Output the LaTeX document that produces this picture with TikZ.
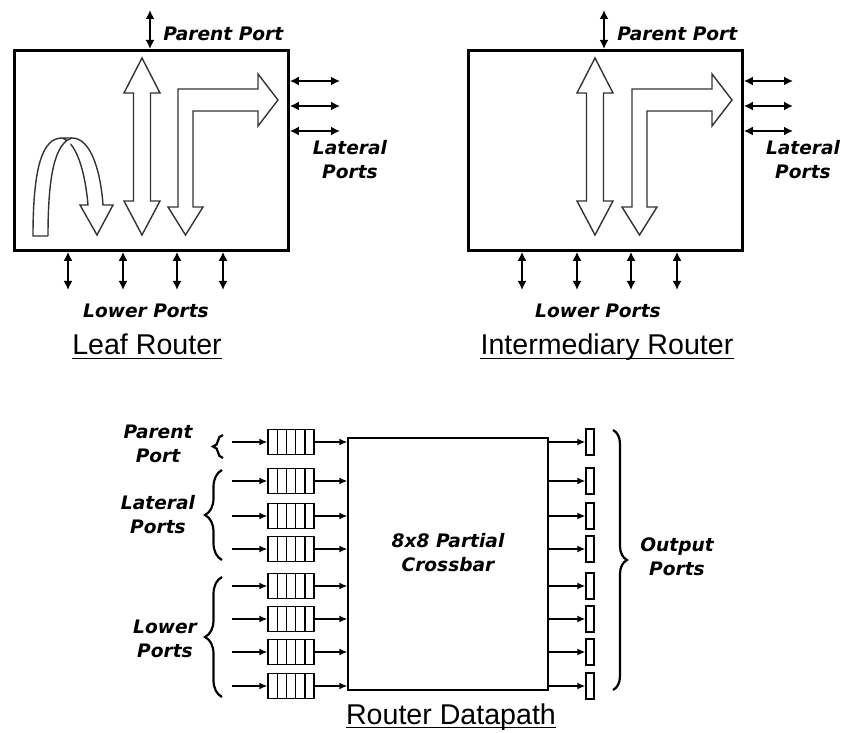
\documentclass[tikz,border=0pt]{standalone}
\usepackage{fontspec}
\setmainfont{Liberation Sans}
\newfontfamily\portfont{DejaVu Sans}
\usetikzlibrary{arrows.meta,decorations.pathreplacing}

\tikzset{
  rbox/.style={draw, line width=1.4pt, minimum width=137pt, minimum height=100pt, inner sep=0pt, anchor=north west},
  port/.style={line width=0.9pt, {Latex[length=4.5pt,width=4.5pt]}-{Latex[length=4.5pt,width=4.5pt]}},
  blk/.style={draw=black!80, line width=0.7pt, fill=white, line join=miter},
  lbl/.style={font=\portfont\bfseries\itshape\fontsize{9.3}{12}\selectfont, align=center, inner sep=0pt},
  ttl/.style={font=\fontsize{14.3}{16}\selectfont, inner sep=0pt, anchor=base},
  arr/.style={line width=0.7pt, -{Latex[length=4pt,width=3.5pt]}},
  queue/.style={draw, line width=0.7pt, minimum width=23pt, minimum height=12.5pt, inner sep=0pt,
    path picture={\foreach \k in {1,...,4}
      \draw[line width=0.7pt] ([xshift=\k*4.6pt]path picture bounding box.north west) -- ([xshift=\k*4.6pt]path picture bounding box.south west);}},
  obuf/.style={draw, line width=0.7pt, minimum width=4pt, minimum height=13pt, inner sep=0pt},
  brc/.style={decorate, decoration={brace, amplitude=#1}, line width=1.1pt}
}

\begin{document}
\begin{tikzpicture}[x=0.5pt,y=-0.5pt]
\path[use as bounding box] (0,0) rectangle (842,733);

% leaf router
\node[rbox] (leaf) at (13,49) {};
\coordinate (leafP) at (150,10);
\draw[port] (leafP) -- (leafP |- leaf.north);
\node[lbl, anchor=west] (leafPl) at (163,34) {Parent Port};
\coordinate (leafL1) at (340,81);
\coordinate (leafL2) at (340,106);
\coordinate (leafL3) at (340,131);
\draw[port] (leafL1 -| leaf.east) -- (leafL1);
\draw[port] (leafL2 -| leaf.east) -- (leafL2);
\draw[port] (leafL3 -| leaf.east) -- (leafL3);
\node[lbl] (leafLl) at (350,160) {Lateral\\Ports};
\coordinate (leafD1) at (68,290);
\coordinate (leafD2) at (123,290);
\coordinate (leafD3) at (177,290);
\coordinate (leafD4) at (223,290);
\draw[port] (leafD1 |- leaf.south) -- (leafD1);
\draw[port] (leafD2 |- leaf.south) -- (leafD2);
\draw[port] (leafD3 |- leaf.south) -- (leafD3);
\draw[port] (leafD4 |- leaf.south) -- (leafD4);
\node[lbl] (leafDl) at (146,311) {Lower Ports};
\node[ttl] (leafT) at (147,355) {Leaf Router};
\draw[line width=0.8pt] ([yshift=-1.8pt]leafT.base west) -- ([yshift=-1.8pt]leafT.base east);
% turn-back, up/down and lateral flows
\draw[blk] (48,236) -- (33,236) .. controls (33,165) and (43,138) .. (62,138) -- (72,138)
  .. controls (92,138) and (101,175) .. (103,205) -- (113,205) -- (97,235) -- (80,205) -- (88,205)
  .. controls (85,170) and (76,142) .. (62,138);
\draw[blk] (48,236) .. controls (48,175) and (55,143) .. (72,138);
\draw[blk] (142,58) -- (160,93) -- (150.5,93) -- (150.5,201) -- (160,201) -- (142,235)
  -- (124,201) -- (133.5,201) -- (133.5,93) -- (124,93) -- cycle;
\draw[blk] (178,89) -- (258,89) -- (258,74) -- (278,100) -- (258,126) -- (258,111) -- (193,111)
  -- (193,207) -- (203,207) -- (185.5,235) -- (168,207) -- (178,207) -- cycle;

% intermediary router
\begin{scope}[shift={(454,0)}]
\node[rbox] (inter) at (13,49) {};
\coordinate (interP) at (150,10);
\draw[port] (interP) -- (interP |- inter.north);
\node[lbl, anchor=west] (interPl) at (163,34) {Parent Port};
\coordinate (interL1) at (339,81);
\coordinate (interL2) at (339,106);
\coordinate (interL3) at (339,131);
\draw[port] (interL1 -| inter.east) -- (interL1);
\draw[port] (interL2 -| inter.east) -- (interL2);
\draw[port] (interL3 -| inter.east) -- (interL3);
\node[lbl] (interLl) at (349,160) {Lateral\\Ports};
\coordinate (interD1) at (68,290);
\coordinate (interD2) at (123,290);
\coordinate (interD3) at (177,290);
\coordinate (interD4) at (223,290);
\draw[port] (interD1 |- inter.south) -- (interD1);
\draw[port] (interD2 |- inter.south) -- (interD2);
\draw[port] (interD3 |- inter.south) -- (interD3);
\draw[port] (interD4 |- inter.south) -- (interD4);
\node[lbl] (interDl) at (144,311) {Lower Ports};
\node[ttl] (interT) at (153,355) {Intermediary Router};
\draw[line width=0.8pt] ([yshift=-1.8pt]interT.base west) -- ([yshift=-1.8pt]interT.base east);
\draw[blk] (141,58) -- (159,93) -- (149.5,93) -- (149.5,201) -- (159,201) -- (141,235)
  -- (123,201) -- (132.5,201) -- (132.5,93) -- (123,93) -- cycle;
\draw[blk] (178,89) -- (258,89) -- (258,74) -- (278,100) -- (258,126) -- (258,111) -- (193,111)
  -- (193,207) -- (203,207) -- (185.5,235) -- (168,207) -- (178,207) -- cycle;
\end{scope}

% router datapath
\node[draw, line width=0.7pt, minimum width=100pt, minimum height=126pt, inner sep=0pt] (xbar) at (448,564) {};
\node[lbl] (xbarl) at (448,553) {8x8 Partial\\Crossbar};
\node[queue] (q1) at (291,442) {};
\node[queue] (q2) at (291,481) {};
\node[queue] (q3) at (291,516) {};
\node[queue] (q4) at (291,549) {};
\node[queue] (q5) at (291,586) {};
\node[queue] (q6) at (291,619) {};
\node[queue] (q7) at (291,652) {};
\node[queue] (q8) at (291,686) {};
\coordinate (in1) at (232,442);
\coordinate (in2) at (232,481);
\coordinate (in3) at (232,516);
\coordinate (in4) at (232,549);
\coordinate (in5) at (232,586);
\coordinate (in6) at (232,619);
\coordinate (in7) at (232,652);
\coordinate (in8) at (232,686);
\draw[arr] (in1) -- (q1);
\draw[arr] (in2) -- (q2);
\draw[arr] (in3) -- (q3);
\draw[arr] (in4) -- (q4);
\draw[arr] (in5) -- (q5);
\draw[arr] (in6) -- (q6);
\draw[arr] (in7) -- (q7);
\draw[arr] (in8) -- (q8);
\draw[arr] (q1) -- (q1 -| xbar.west);
\draw[arr] (q2) -- (q2 -| xbar.west);
\draw[arr] (q3) -- (q3 -| xbar.west);
\draw[arr] (q4) -- (q4 -| xbar.west);
\draw[arr] (q5) -- (q5 -| xbar.west);
\draw[arr] (q6) -- (q6 -| xbar.west);
\draw[arr] (q7) -- (q7 -| xbar.west);
\draw[arr] (q8) -- (q8 -| xbar.west);
\node[obuf] (o1) at (590,442) {};
\node[obuf] (o2) at (590,481) {};
\node[obuf] (o3) at (590,516) {};
\node[obuf] (o4) at (590,549) {};
\node[obuf] (o5) at (590,586) {};
\node[obuf] (o6) at (590,619) {};
\node[obuf] (o7) at (590,652) {};
\node[obuf] (o8) at (590,686) {};
\draw[arr] (o1 -| xbar.east) -- (o1);
\draw[arr] (o2 -| xbar.east) -- (o2);
\draw[arr] (o3 -| xbar.east) -- (o3);
\draw[arr] (o4 -| xbar.east) -- (o4);
\draw[arr] (o5 -| xbar.east) -- (o5);
\draw[arr] (o6 -| xbar.east) -- (o6);
\draw[arr] (o7 -| xbar.east) -- (o7);
\draw[arr] (o8 -| xbar.east) -- (o8);
% port groups
\node[lbl] (ppl) at (158,444) {Parent\\Port};
\draw[brc=5pt] (223,458) -- (223,435);
\node[lbl] (lpl) at (158,515) {Lateral\\Ports};
\draw[brc=8.5pt] (222,560) -- (222,470);
\node[lbl] (dpl) at (165,639) {Lower\\Ports};
\draw[brc=8.5pt] (222,697) -- (222,577);
\node[lbl] (opl) at (677,557) {Output\\Ports};
\draw[brc=7pt] (613,430) -- (613,690);
\node[ttl] (dpT) at (451,724) {Router Datapath};
\draw[line width=0.8pt] ([yshift=-1.8pt]dpT.base west) -- ([yshift=-1.8pt]dpT.base east);
\end{tikzpicture}
\end{document}
